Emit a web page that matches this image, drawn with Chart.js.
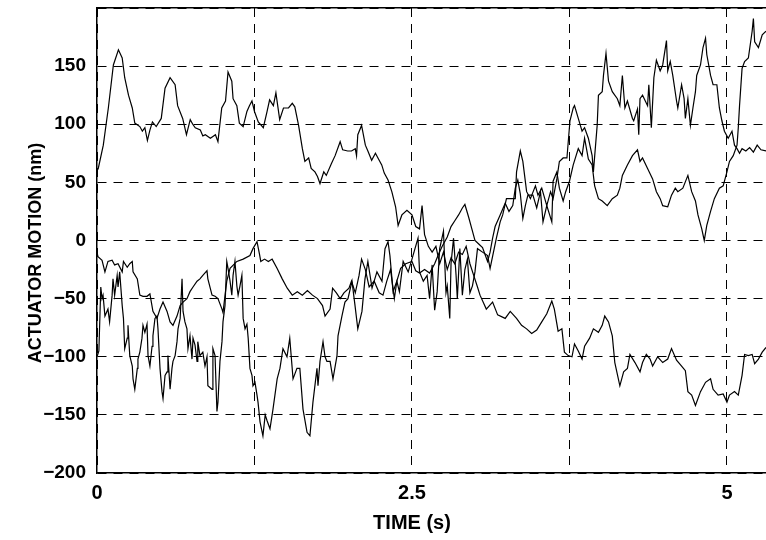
<!DOCTYPE html>
<html>
<head>
<meta charset="utf-8">
<script src="https://cdn.jsdelivr.net/npm/chart.js@4.4.1/dist/chart.umd.min.js"></script>
<style>
  html, body { margin: 0; padding: 0; background: #ffffff; }
  #wrap { width: 766px; height: 540px; position: relative; }
</style>
</head>
<body>
<div id="wrap"><canvas id="c" width="766" height="540"></canvas></div>
<script>
// ---------------- DATA ----------------
const xTickValues = [0, 1.25, 2.5, 3.75, 5];
const xTickLabels = ["0", "", "2.5", "", "5"];
const yTickValues = [-200, -150, -100, -50, 0, 50, 100, 150, 200];
const yTickLabels = ["\u2212200", "\u2212150", "\u2212100", "\u221250", "0", "50", "100", "150", ""];
const xTitle = "TIME (s)";
const yTitle = "ACTUATOR MOTION (nm)";

// Trace A: starts high, drifts down to the lower right
const timeA = [0, 0.01, 0.05, 0.09, 0.13, 0.17, 0.2, 0.22, 0.25, 0.28, 0.3, 0.34, 0.36, 0.38, 0.4, 0.42, 0.44, 0.47, 0.51, 0.54,
  0.58, 0.62, 0.64, 0.68, 0.71, 0.74, 0.76, 0.78, 0.82, 0.84, 0.86, 0.9, 0.94, 0.96, 0.99, 1.02, 1.04, 1.07, 1.08, 1.11,
  1.13, 1.16, 1.19, 1.21, 1.23, 1.25, 1.28, 1.32, 1.35, 1.37, 1.4, 1.42, 1.45, 1.48, 1.52, 1.55, 1.57, 1.6, 1.63, 1.65,
  1.68, 1.7, 1.73, 1.75, 1.77, 1.8, 1.82, 1.86, 1.89, 1.93, 1.95, 1.99, 2.02, 2.05, 2.06, 2.07, 2.1, 2.13, 2.15, 2.18,
  2.21, 2.23, 2.26, 2.28, 2.31, 2.34, 2.37, 2.39, 2.42, 2.46, 2.5, 2.53, 2.56, 2.58, 2.6, 2.63, 2.66, 2.69, 2.72, 2.75,
  2.78, 2.81, 2.84, 2.87, 2.9, 2.93, 2.96, 2.99, 3.02, 3.04, 3.09, 3.14, 3.18, 3.24, 3.28, 3.33, 3.37, 3.41, 3.45, 3.49,
  3.53, 3.57, 3.61, 3.63, 3.66, 3.69, 3.71, 3.74, 3.77, 3.79, 3.82, 3.85, 3.87, 3.91, 3.94, 3.98, 4.01, 4.03, 4.06, 4.09,
  4.11, 4.15, 4.18, 4.21, 4.23, 4.27, 4.31, 4.33, 4.36, 4.39, 4.41, 4.45, 4.49, 4.53, 4.56, 4.6, 4.64, 4.67, 4.69, 4.72,
  4.75, 4.79, 4.83, 4.87, 4.89, 4.93, 4.97, 5.0, 5.02, 5.06, 5.09, 5.12, 5.14, 5.17, 5.2, 5.22, 5.25, 5.28, 5.31];
const motionA = [60, 62, 82, 114, 151, 164, 157, 140, 125, 114, 101, 98, 94, 97, 86, 95, 102, 98, 105, 131,
  140, 134, 116, 105, 91, 104, 100, 97, 95, 90, 91, 88, 91, 85, 114, 120, 145, 137, 122, 116,
  101, 98, 111, 116, 120, 111, 102, 97, 111, 121, 116, 127, 104, 114, 114, 118, 115, 99, 79, 68,
  71, 62, 59, 55, 49, 59, 56, 66, 73, 85, 78, 77, 77, 79, 73, 91, 99, 82, 77, 69,
  75, 71, 65, 58, 52, 42, 29, 13, 22, 26, 22, 12, 10, 30, 5, -5, -10, -5, -20, -10,
  -25, -15, -20, -10, -12, -5, -20, -30, -40, -47, -59, -53, -64, -67, -61, -67, -73, -76, -80, -77,
  -70, -63, -52, -59, -78, -76, -96, -99, -100, -89, -95, -102, -91, -84, -76, -79, -73, -65, -70, -82,
  -105, -125, -113, -110, -98, -105, -113, -105, -98, -102, -108, -100, -105, -102, -93, -103, -108, -112, -130, -133,
  -142, -130, -122, -119, -128, -133, -132, -139, -133, -130, -133, -116, -98, -99, -98, -106, -102, -96, -92];

// Trace B: smoother middle trace
const timeB = [0, 0.008, 0.04, 0.063, 0.087, 0.12, 0.14, 0.167, 0.2, 0.21, 0.24, 0.26, 0.28, 0.286, 0.32, 0.34, 0.365, 0.397, 0.42, 0.444,
  0.476, 0.5, 0.524, 0.556, 0.58, 0.603, 0.635, 0.66, 0.683, 0.714, 0.738, 0.762, 0.794, 0.817, 0.84, 0.873, 0.88, 0.913, 0.937, 0.96,
  0.992, 1.0, 1.03, 1.056, 1.11, 1.16, 1.214, 1.238, 1.27, 1.29, 1.3, 1.33, 1.36, 1.39, 1.43, 1.47, 1.51, 1.55, 1.59, 1.63,
  1.67, 1.71, 1.75, 1.79, 1.81, 1.85, 1.87, 1.9, 1.93, 1.96, 2.0, 2.02, 2.05, 2.08, 2.1, 2.13, 2.16, 2.2, 2.24, 2.27,
  2.3, 2.33, 2.36, 2.38, 2.41, 2.45, 2.5, 2.53, 2.56, 2.6, 2.64, 2.68, 2.71, 2.74, 2.78, 2.81, 2.84, 2.87, 2.9, 2.92,
  2.95, 2.98, 3.0, 3.03, 3.06, 3.1, 3.12, 3.14, 3.16, 3.2, 3.24, 3.27, 3.3, 3.32, 3.34, 3.36, 3.38, 3.4, 3.42, 3.46,
  3.49, 3.52, 3.54, 3.57, 3.61, 3.62, 3.65, 3.67, 3.7, 3.72, 3.75, 3.78, 3.82, 3.85, 3.87, 3.9, 3.93, 3.95, 3.98, 4.01,
  4.05, 4.09, 4.13, 4.15, 4.17, 4.21, 4.25, 4.29, 4.31, 4.33, 4.37, 4.41, 4.44, 4.47, 4.49, 4.53, 4.56, 4.59, 4.61, 4.65,
  4.69, 4.72, 4.75, 4.77, 4.8, 4.82, 4.84, 4.87, 4.9, 4.94, 4.97, 5.0, 5.02, 5.05, 5.08, 5.09, 5.1, 5.12, 5.14, 5.17,
  5.2, 5.21, 5.22, 5.25, 5.28, 5.31];
const motionB = [-10, -14, -17, -27, -18, -17, -21, -20, -27, -18, -23, -20, -18, -27, -33, -47, -48, -48, -46, -61,
  -67, -59, -53, -61, -70, -73, -65, -56, -53, -50, -44, -40, -35, -33, -30, -26, -33, -47, -48, -50,
  -59, -62, -35, -24, -18, -16, -13, -7, -1, -12, -18, -16, -18, -16, -24, -33, -41, -47, -44, -47,
  -43, -47, -50, -56, -65, -59, -41, -45, -50, -45, -41, -35, -45, -30, -16, -25, -40, -35, -45, -47,
  -35, -25, -50, -35, -24, -20, -18, -26, -28, -25, -28, -20, -12, -5, 3, 12, 17, 22, 28, 31,
  20, 8, 0, -3, -6, -18, -10, 2, 12, 22, 32, 25, 30, 45, 52, 40, 19, 30, 39, 39,
  28, 42, 16, 30, 16, 51, 59, 45, 34, 42, 51, 65, 79, 73, 88, 70, 65, 47, 36, 34,
  30, 36, 39, 45, 56, 65, 73, 78, 68, 71, 62, 53, 42, 36, 30, 29, 39, 45, 42, 45,
  56, 42, 34, 22, 10, 0, 13, 25, 36, 45, 47, 59, 68, 73, 82, 97, 116, 148, 154, 157,
  180, 191, 171, 166, 177, 180];

// Trace C: very noisy trace, low at first, high at the end
const timeC = [0, 0.015, 0.03, 0.04, 0.048, 0.063, 0.087, 0.1, 0.12, 0.127, 0.14, 0.16, 0.167, 0.18, 0.2, 0.21, 0.22, 0.24, 0.246, 0.26,
  0.28, 0.286, 0.3, 0.32, 0.325, 0.34, 0.357, 0.365, 0.38, 0.397, 0.405, 0.42, 0.437, 0.444, 0.46, 0.476, 0.484, 0.5, 0.516, 0.524,
  0.54, 0.556, 0.563, 0.58, 0.595, 0.603, 0.62, 0.635, 0.643, 0.66, 0.675, 0.683, 0.698, 0.714, 0.722, 0.738, 0.754, 0.762, 0.778, 0.794,
  0.8, 0.817, 0.84, 0.857, 0.873, 0.88, 0.913, 0.92, 0.937, 0.952, 0.96, 0.976, 0.992, 1.0, 1.016, 1.03, 1.04, 1.056, 1.07, 1.08,
  1.095, 1.11, 1.12, 1.135, 1.15, 1.16, 1.175, 1.19, 1.2, 1.214, 1.23, 1.238, 1.254, 1.27, 1.278, 1.294, 1.317, 1.335, 1.35, 1.373,
  1.397, 1.43, 1.452, 1.476, 1.508, 1.53, 1.556, 1.587, 1.61, 1.635, 1.667, 1.69, 1.714, 1.746, 1.754, 1.77, 1.794, 1.81, 1.825, 1.85,
  1.873, 1.905, 1.913, 1.944, 1.968, 1.992, 2.024, 2.048, 2.07, 2.103, 2.127, 2.15, 2.183, 2.222, 2.262, 2.286, 2.31, 2.325, 2.35, 2.38,
  2.4, 2.43, 2.47, 2.5, 2.524, 2.548, 2.56, 2.59, 2.62, 2.64, 2.66, 2.68, 2.7, 2.72, 2.75, 2.77, 2.78, 2.8, 2.81, 2.83,
  2.85, 2.86, 2.88, 2.9, 2.92, 2.94, 2.96, 2.98, 3.0, 3.02, 3.06, 3.1, 3.12, 3.17, 3.2, 3.22, 3.25, 3.28, 3.32, 3.33,
  3.36, 3.38, 3.41, 3.44, 3.48, 3.5, 3.53, 3.57, 3.6, 3.62, 3.65, 3.67, 3.7, 3.73, 3.754, 3.78, 3.79, 3.82, 3.85, 3.87,
  3.9, 3.93, 3.94, 3.97, 3.98, 4.01, 4.02, 4.04, 4.06, 4.09, 4.13, 4.15, 4.17, 4.19, 4.21, 4.25, 4.26, 4.29, 4.3, 4.31,
  4.33, 4.37, 4.38, 4.4, 4.42, 4.44, 4.47, 4.49, 4.52, 4.53, 4.55, 4.57, 4.6, 4.61, 4.64, 4.66, 4.67, 4.69, 4.71, 4.73,
  4.75, 4.76, 4.79, 4.81, 4.83, 4.84, 4.87, 4.89, 4.92, 4.94, 4.96, 4.98, 5.01, 5.04, 5.06, 5.08, 5.1, 5.12, 5.15, 5.18,
  5.21, 5.24, 5.27, 5.31];
const motionC = [-100, -95, -40, -50, -47, -65, -59, -70, -47, -33, -47, -30, -40, -27, -56, -67, -93, -84, -73, -99,
  -108, -119, -128, -110, -102, -96, -84, -73, -79, -72, -99, -108, -91, -82, -67, -65, -76, -110, -130, -136,
  -116, -113, -99, -128, -110, -104, -99, -87, -76, -67, -33, -61, -70, -76, -93, -82, -102, -84, -90, -104,
  -87, -99, -96, -108, -100, -125, -128, -93, -99, -147, -139, -104, -87, -70, -56, -18, -24, -35, -47, -30,
  -18, -39, -47, -39, -30, -67, -76, -72, -84, -110, -116, -125, -122, -133, -139, -156, -168, -150, -155, -162,
  -145, -119, -110, -93, -100, -84, -119, -110, -110, -145, -165, -168, -139, -110, -125, -104, -87, -100, -104, -104,
  -119, -99, -82, -65, -53, -50, -35, -56, -76, -61, -33, -18, -41, -27, -35, -7, -1, -13, -44, -35,
  -44, -18, -27, -16, -7, 2, -27, -35, -30, -50, -21, -60, -44, -7, 8, -45, -39, -67, -20, 2,
  -30, -50, -7, -47, -25, -16, -45, -39, -27, -7, -10, -13, -24, 2, 16, 22, 36, 36, 36, 59,
  77, 68, 42, 36, 47, 39, 45, 30, 42, 36, 53, 68, 71, 71, 103, 114, 116, 105, 94, 97,
  88, 73, 59, 99, 125, 128, 142, 161, 137, 128, 122, 116, 142, 114, 120, 105, 103, 113, 91, 122,
  125, 116, 134, 97, 140, 155, 146, 151, 172, 146, 154, 142, 120, 114, 134, 122, 105, 122, 99, 114,
  128, 142, 151, 166, 174, 160, 142, 134, 134, 114, 103, 94, 88, 94, 82, 79, 75, 79, 77, 80,
  76, 82, 78, 77];

// ---------------- CHART ----------------
const FONT = '"Liberation Sans", Arial, Helvetica, sans-serif';
const toPts = (ts, vs) => ts.map((t, i) => ({ x: t, y: vs[i] }));
const lineStyle = { borderColor: '#000', borderWidth: 1.2, pointRadius: 0, tension: 0, fill: false };

const titlesPlugin = {
  id: 'axisTitles',
  afterDraw(chart) {
    const ctx = chart.ctx;
    ctx.save();
    ctx.fillStyle = '#000';
    ctx.textAlign = 'center';
    ctx.textBaseline = 'middle';
    ctx.font = 'bold 20px ' + FONT;
    ctx.fillText(xTitle, 412, 523);
    ctx.font = 'bold 18px ' + FONT;
    ctx.translate(36, 253);
    ctx.rotate(-Math.PI / 2);
    ctx.fillText(yTitle, 0, 0);
    ctx.restore();
  }
};

new Chart(document.getElementById('c'), {
  type: 'line',
  data: {
    datasets: [
      Object.assign({ label: 'A', data: toPts(timeA, motionA) }, lineStyle),
      Object.assign({ label: 'B', data: toPts(timeB, motionB) }, lineStyle),
      Object.assign({ label: 'C', data: toPts(timeC, motionC) }, lineStyle)
    ]
  },
  options: {
    responsive: false,
    animation: false,
    layout: { padding: { top: 8, right: 0, left: 0, bottom: 0 } },
    plugins: { legend: { display: false }, tooltip: { enabled: false } },
    scales: {
      x: {
        type: 'linear',
        position: 'bottom',
        min: 0,
        max: 5.31,
        afterBuildTicks: (s) => { s.ticks = xTickValues.map(v => ({ value: v })); },
        ticks: {
          callback: (v) => { const i = xTickValues.indexOf(v); return i >= 0 ? xTickLabels[i] : ''; },
          font: { family: FONT, size: 20, weight: 'bold' },
          color: '#000',
          padding: 8,
          maxRotation: 0,
          autoSkip: false
        },
        grid: { color: '#000', lineWidth: 1, drawTicks: false },
        border: { display: true, color: '#000', width: 1.5, dash: [9, 7] },
        afterFit: (s) => { s.height = 67; s.paddingLeft = 0; s.paddingRight = 0; }
      },
      xTop: {
        type: 'linear',
        position: 'top',
        min: 0,
        max: 5.31,
        ticks: { display: false },
        grid: { display: false, drawTicks: false },
        border: { display: true, color: '#000', width: 1.5 },
        afterFit: (s) => { s.height = 0; s.paddingLeft = 0; s.paddingRight = 0; }
      },
      y: {
        type: 'linear',
        min: -200,
        max: 200,
        afterBuildTicks: (s) => { s.ticks = yTickValues.map(v => ({ value: v })); },
        ticks: {
          callback: (v) => { const i = yTickValues.indexOf(v); return i >= 0 ? yTickLabels[i] : ''; },
          font: { family: FONT, size: 19, weight: 'bold' },
          color: '#000',
          padding: 11,
          autoSkip: false
        },
        grid: { color: '#000', lineWidth: 1, drawTicks: false },
        border: { display: true, color: '#000', width: 1.5, dash: [9, 7] },
        afterFit: (s) => { s.width = 97; s.paddingTop = 0; s.paddingBottom = 0; }
      }
    }
  },
  plugins: [titlesPlugin]
});
</script>
</body>
</html>
